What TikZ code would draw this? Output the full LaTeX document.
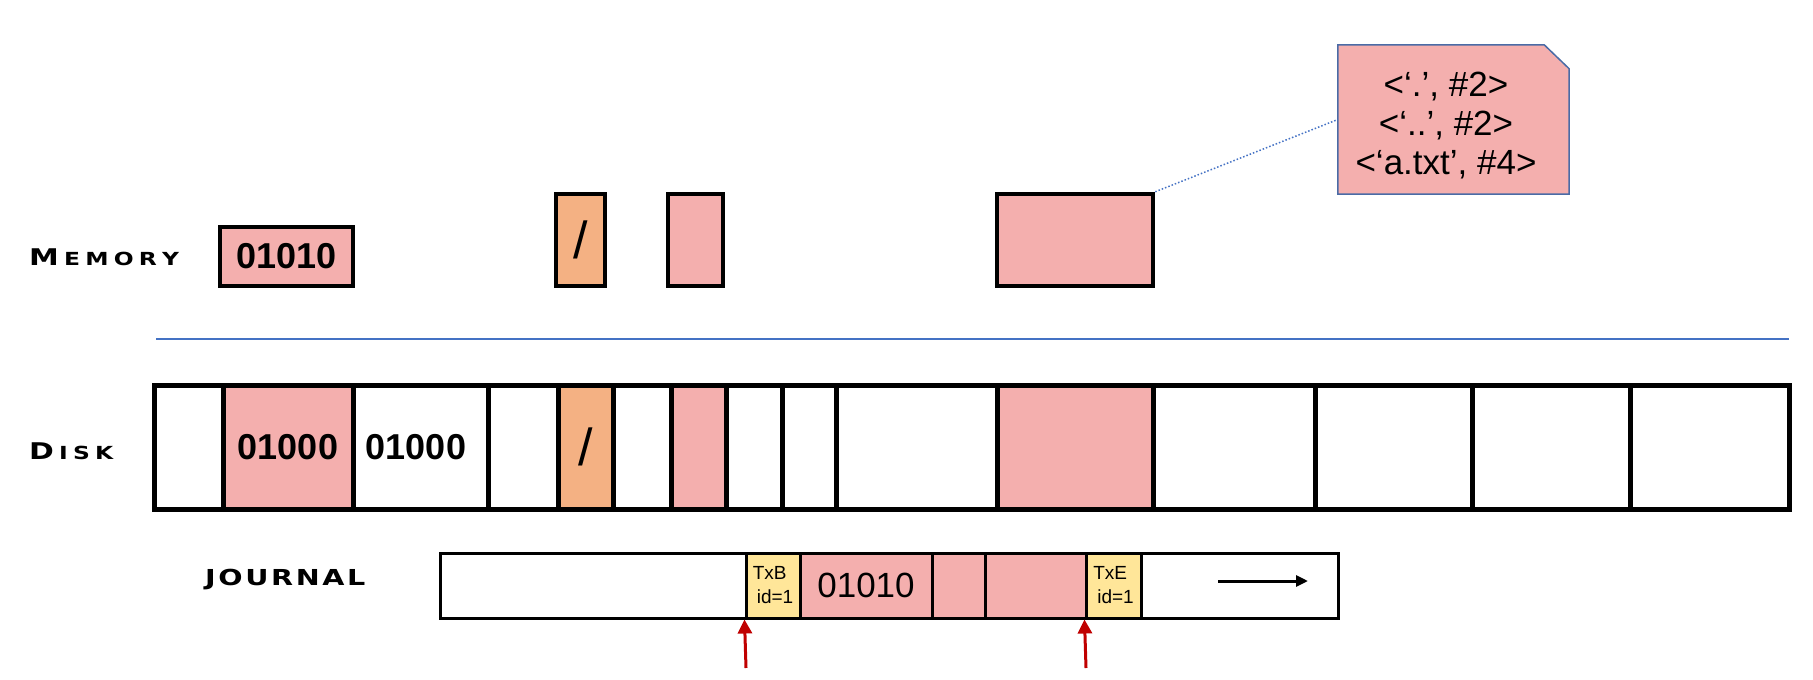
\documentclass[tikz,border=0pt]{standalone}
\usepackage{fontspec}
\usepackage{graphicx}
\setsansfont{Liberation Sans}
\newfontfamily\cpf{DejaVu Sans}
\usetikzlibrary{arrows.meta}
\definecolor{pinkf}{HTML}{F4AFAE}
\definecolor{orangef}{HTML}{F4B183}
\definecolor{yellowf}{HTML}{FFE699}
\definecolor{blueline}{HTML}{4472C4}
\definecolor{calloutedge}{HTML}{4A6BA6}
\definecolor{redarrow}{HTML}{C00000}
\newcommand{\lgap}{\hspace{4pt}}
\newcommand{\jgap}{\hspace{2pt}}
\newcommand{\bigsc}{\fontsize{23}{28}\selectfont}
\newcommand{\smsc}{\fontsize{18}{22}\selectfont}
\begin{document}
\begin{tikzpicture}[x=1pt,y=-1pt,
  cell/.style={draw=black, line width=5pt, inner sep=0pt, minimum height=124pt},
  mbox/.style={draw=black, line width=4.5pt, inner sep=0pt, fill=pinkf},
  jcell/.style={draw=black, line width=3pt, inner sep=0pt, minimum height=65pt},
  bignum/.style={font=\fontsize{36}{40}\selectfont\sffamily\bfseries, inner sep=0pt},
  jnum/.style={font=\fontsize{35}{40}\selectfont\sffamily, inner sep=0pt},
  slashtxt/.style={font=\fontsize{52}{56}\selectfont\sffamily, inner sep=0pt},
  txtag/.style={font=\fontsize{19}{24}\selectfont\sffamily, inner sep=0pt, align=left},
  lab/.style={inner sep=0pt, anchor=base west},
  redarr/.style={draw=redarrow, line width=3pt, -{Triangle[length=14pt,width=14pt]}}
]
\useasboundingbox (0,0) rectangle (1813,680);

% labels
\node[lab] (lmem) at (29,265)
  {\scalebox{1.3}[1]{\cpf\bfseries\bigsc M\lgap\smsc E\lgap M\lgap O\lgap R\lgap Y}};
\node[lab] (ldisk) at (29,459)
  {\scalebox{1.3}[1]{\cpf\bfseries\bigsc D\lgap\smsc I\lgap S\lgap K}};
\node[lab] (ljour) at (205,585)
  {\scalebox{1.3}[1]{\cpf\bfseries\fontsize{22}{26}\selectfont J\jgap O\jgap U\jgap R\jgap N\jgap A\jgap L}};

% memory boxes
\node[mbox, minimum width=133pt, minimum height=59pt] (m1) at (286.5,256.5) {};
\node[bignum] (m1t) at (m1.center) {01010};
\node[mbox, fill=orangef, minimum width=49pt, minimum height=92pt] (m2) at (580.5,240) {};
\node[slashtxt] (m2t) at (m2.center) {/};
\node[mbox, minimum width=55pt, minimum height=92pt] (m3) at (695.5,240) {};
\node[mbox, minimum width=156pt, minimum height=92pt] (m4) at (1075,240) {};

% callout
\node[inner sep=0pt, minimum width=231pt, minimum height=149pt] (call) at (1453.5,119.5) {};
\draw[fill=pinkf, draw=calloutedge, line width=1.5pt]
  (call.north west) -- ([xshift=-25pt]call.north east) -- ([yshift=-24pt]call.north east)
  -- (call.south east) -- (call.south west) -- cycle;
\node[align=center, font=\fontsize{35}{39}\selectfont\sffamily, inner sep=0pt] (calltext) at (1446,126)
  {<‘.’, \#2>\\<‘..’, \#2>\\<‘a.txt’, \#4>};
\draw[blueline, dotted, line width=1.5pt] (m4.north east) -- (call.west);

% separator
\coordinate (bl1) at (156,339);
\coordinate (bl2) at (1789,339);
\draw[blueline, line width=2pt] (bl1) -- (bl2);

% disk
\node[cell, minimum width=69pt] (d1) at (188.5,447) {};
\node[cell, fill=pinkf, minimum width=130pt] (d2) at (288,447) {};
\node[cell, minimum width=135pt] (d3) at (420.5,447) {};
\node[cell, minimum width=70pt] (d4) at (523,447) {};
\node[cell, fill=orangef, minimum width=55pt] (d5) at (585.5,447) {};
\node[cell, minimum width=58pt] (d6) at (642,447) {};
\node[cell, fill=pinkf, minimum width=55pt] (d7) at (698.5,447) {};
\node[cell, minimum width=56pt] (d8) at (754,447) {};
\node[cell, minimum width=54pt] (d9) at (809,447) {};
\node[cell, minimum width=161pt] (d10) at (916.5,447) {};
\node[cell, fill=pinkf, minimum width=156pt] (d11) at (1075,447) {};
\node[cell, minimum width=162pt] (d12) at (1234,447) {};
\node[cell, minimum width=157pt] (d13) at (1393.5,447) {};
\node[cell, minimum width=158pt] (d14) at (1551,447) {};
\node[cell, minimum width=159pt] (d15) at (1709.5,447) {};
\node[bignum] (d2t) at (d2.center) {01000};
\node[bignum] (d3t) at (416,447) {01000};
\node[slashtxt] (d5t) at (d5.center) {/};

% journal
\node[jcell, minimum width=306pt] (j1) at (593,585.5) {};
\node[jcell, fill=yellowf, minimum width=54pt] (j2) at (773,585.5) {};
\node[jcell, fill=pinkf, minimum width=132pt] (j3) at (866,585.5) {};
\node[jcell, fill=pinkf, minimum width=53pt] (j4) at (958.5,585.5) {};
\node[jcell, fill=pinkf, minimum width=101pt] (j5) at (1035.5,585.5) {};
\node[jcell, fill=yellowf, minimum width=55pt] (j6) at (1113.5,585.5) {};
\node[jcell, minimum width=197pt] (j7) at (1239.5,585.5) {};
\node[txtag] (j2t) at (j2.center) {TxB\\\hspace*{4pt}id=1};
\node[jnum] (j3t) at (j3.center) {01010};
\node[txtag] (j6t) at (j6.center) {TxE\\\hspace*{4pt}id=1};
\coordinate (ja) at (1218,581);
\coordinate (jb) at (1308,581);
\draw[line width=3pt, -{Triangle[length=12pt,width=11pt]}] (ja) -- (jb);

% red arrows
\coordinate (r1) at (746,668);
\coordinate (r2) at (1086,668);
\draw[redarr] (r1) -- (j2.south west);
\draw[redarr] (r2) -- (j6.south west);
\end{tikzpicture}
\end{document}
